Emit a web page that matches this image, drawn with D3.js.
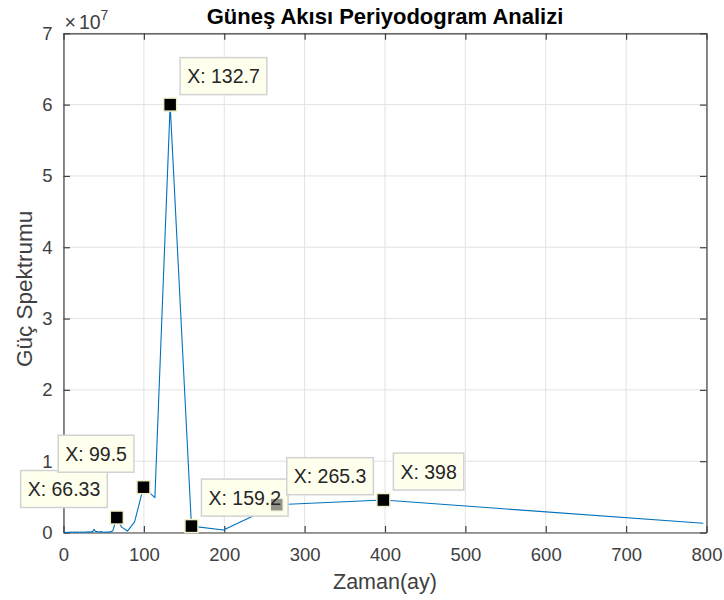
<!DOCTYPE html>
<html>
<head>
<meta charset="utf-8">
<script src="https://cdn.jsdelivr.net/npm/d3@7"></script>
<style>
  html, body { margin: 0; padding: 0; background: #fff; }
  svg { display: block; font-family: "Liberation Sans", Arial, Helvetica, sans-serif; }
</style>
</head>
<body>
<svg id="chart" width="724" height="600"></svg>
<script>
// ---------- data ----------
const periods = [796, 398, 265.3, 199, 159.2, 132.7, 113.7, 99.5, 88.44, 79.6, 72.36, 66.33,
  61.23, 56.86, 53.07, 49.75, 46.82, 44.22, 41.89, 39.8, 37.9, 36.18, 34.61, 33.17, 31.84,
  30.62, 29.48, 28.43, 27.45, 26.53, 24.88, 23.41, 22.11, 19.9, 17.69, 15.92, 13.27, 11.37,
  9.95, 7.96, 6.12, 4.68, 3.46, 2.65, 2.0];
const power = [0.13e7, 0.455e7, 0.39e7, 0.035e7, 0.09e7, 6.0e7, 0.49e7, 0.635e7, 0.15e7, 0.02e7, 0.075e7, 0.21e7,
  0.02e7, 0.005e7, 0.008e7, 0.004e7, 0.012e7, 0.006e7, 0.015e7, 0.015e7, 0.045e7, 0.006e7, 0.012e7, 0.004e7, 0.009e7,
  0.005e7, 0.011e7, 0.003e7, 0.007e7, 0.004e7, 0.008e7, 0.003e7, 0.006e7, 0.004e7, 0.007e7, 0.002e7, 0.005e7, 0.003e7,
  0.006e7, 0.002e7, 0.004e7, 0.002e7, 0.003e7, 0.001e7, 0.002e7];
const xTicks = [0, 100, 200, 300, 400, 500, 600, 700, 800];
const yTicks = [0, 1e7, 2e7, 3e7, 4e7, 5e7, 6e7, 7e7];
const tipPeriods = [66.33, 99.5, 132.7, 159.2, 265.3, 398];
const tipSide = ["left", "left", "right", "right", "right", "right"];
const titleText = "Güneş Akısı Periyodogram Analizi";
const xLabel = "Zaman(ay)";
const yLabel = "Güç Spektrumu";

// ---------- layout ----------
const W = 724, H = 600;
const L = 63.5, R = 706.5, T = 33.3, B = 532.5;
const svg = d3.select("#chart");
const x = d3.scaleLinear().domain([0, 800]).range([L, R]);
const y = d3.scaleLinear().domain([0, 7e7]).range([B, T]);
const axisColor = "#404040";
const tickFont = 18.5;

// grid
const grid = svg.append("g");
grid.selectAll("line.gx").data(xTicks).join("line")
  .attr("x1", d => x(d)).attr("x2", d => x(d)).attr("y1", T).attr("y2", B)
  .attr("stroke", "#e2e2e2").attr("stroke-width", 1);
grid.selectAll("line.gy").data(yTicks).join("line")
  .attr("x1", L).attr("x2", R).attr("y1", d => y(d)).attr("y2", d => y(d))
  .attr("stroke", "#e2e2e2").attr("stroke-width", 1);

// axes
function styleAxis(g) {
  g.select(".domain").attr("stroke", axisColor).attr("stroke-width", 1.2);
  g.selectAll(".tick line").attr("stroke", axisColor).attr("stroke-width", 1.2);
  g.selectAll(".tick text").attr("fill", axisColor).attr("font-size", tickFont)
    .attr("font-family", "'Liberation Sans', Arial, Helvetica, sans-serif");
}
const gx = svg.append("g").attr("transform", `translate(0,${B})`)
  .call(d3.axisBottom(x).tickValues(xTicks).tickSizeInner(-6.5).tickSizeOuter(0).tickPadding(15.5).tickFormat(d3.format("d")));
styleAxis(gx);
const gxTop = svg.append("g").attr("transform", `translate(0,${T})`)
  .call(d3.axisTop(x).tickValues(xTicks).tickSizeInner(-6.5).tickSizeOuter(0).tickFormat(""));
styleAxis(gxTop);
const gy = svg.append("g").attr("transform", `translate(${L},0)`)
  .call(d3.axisLeft(y).tickValues(yTicks).tickSizeInner(-6.5).tickSizeOuter(0).tickPadding(11).tickFormat(d => d3.format("d")(d / 1e7)));
styleAxis(gy);
const gyR = svg.append("g").attr("transform", `translate(${R},0)`)
  .call(d3.axisRight(y).tickValues(yTicks).tickSizeInner(-6.5).tickSizeOuter(0).tickFormat(""));
styleAxis(gyR);

// exponent label
const expo = svg.append("text").attr("x", L + 1).attr("y", 28.5).attr("fill", axisColor).attr("font-size", 19.5);
expo.append("tspan").text("×");
expo.append("tspan").attr("dx", 3).text("10");
expo.append("tspan").attr("font-size", 14).attr("dy", -9).text("7");

// line
const pts = periods.map((p, i) => [p, power[i]]).sort((a, b) => a[0] - b[0]);
svg.append("path").datum(pts)
  .attr("fill", "none").attr("stroke", "#0072BD").attr("stroke-width", 1.1)
  .attr("stroke-linejoin", "round")
  .attr("d", d3.line().x(d => x(d[0])).y(d => y(d[1])));

// data tips
const fmt = d3.format(".4~g");
const tipFont = 19.5;
const tips = tipPeriods.map((p, i) => {
  const v = power[periods.indexOf(p)];
  return { p, v, mx: x(p), my: y(v), side: tipSide[i], label: "X: " + fmt(p) };
});
const measure = svg.append("text").attr("font-size", tipFont).attr("visibility", "hidden");
tips.forEach(t => {
  measure.text(t.label);
  const tw = measure.node().getComputedTextLength();
  t.w = tw + 14; t.h = 37;
  if (t.side === "right") { t.bx = t.mx + 10; }
  else { t.bx = t.mx - 9.5 - t.w; }
  t.by = t.my - 10 - t.h - (t.p === 99.5 ? 5 : 0);
});
measure.remove();

const gTips = svg.append("g");
gTips.selectAll("rect.box").data(tips).join("rect")
  .attr("x", d => d.bx).attr("y", d => d.by).attr("width", d => d.w).attr("height", d => d.h)
  .attr("fill", "#ffffee").attr("stroke", "#d2d2d2").attr("stroke-width", 1.5);
// markers: dimmed when lying beneath another tip's box
const ms = 13;
gTips.selectAll("rect.mk").data(tips).join("rect")
  .attr("x", d => d.mx - ms / 2).attr("y", d => d.my - ms / 2).attr("width", ms).attr("height", ms)
  .attr("fill", "#000").attr("stroke", "#f2efc8").attr("stroke-width", 1.5)
  .attr("opacity", d => tips.some(o => o !== d && d.mx > o.bx && d.mx < o.bx + o.w && d.my > o.by && d.my < o.by + o.h) ? 0.42 : 1);
gTips.selectAll("text").data(tips).join("text")
  .attr("x", d => d.bx + 7).attr("y", d => d.by + d.h / 2 + tipFont * 0.36)
  .attr("font-size", tipFont).attr("fill", "#262626").text(d => d.label);

// titles
svg.append("text").attr("x", (L + R) / 2).attr("y", 23.5).attr("text-anchor", "middle")
  .attr("font-size", 22).attr("font-weight", "bold").attr("fill", "#000").text(titleText);
svg.append("text").attr("x", (L + R) / 2).attr("y", 589).attr("text-anchor", "middle")
  .attr("font-size", 21.5).attr("fill", axisColor).text(xLabel);
svg.append("text").attr("transform", `translate(31.5,${(T + B) / 2 + 6}) rotate(-90)`).attr("text-anchor", "middle")
  .attr("font-size", 22.5).attr("fill", axisColor).text(yLabel);
</script>
</body>
</html>
